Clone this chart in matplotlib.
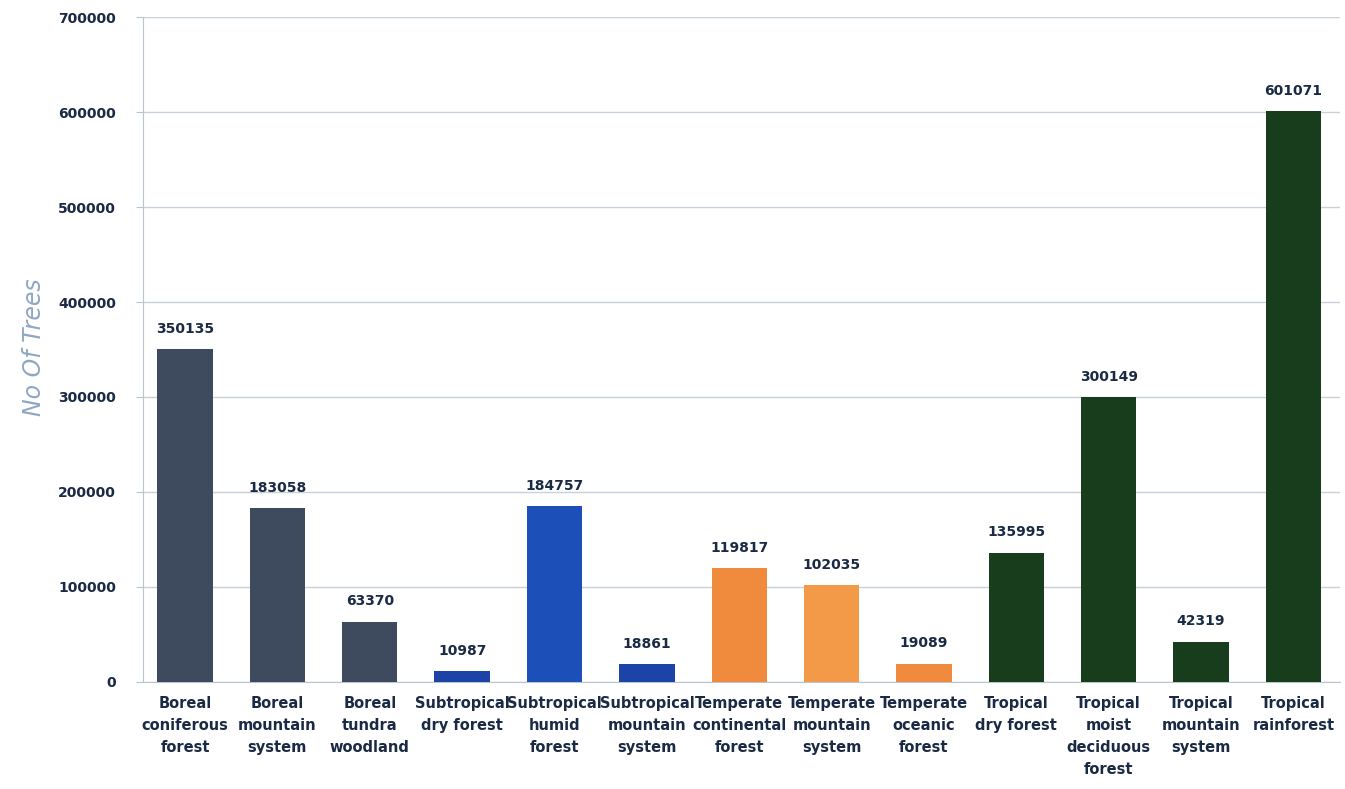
import matplotlib
matplotlib.use("Agg")
import matplotlib.pyplot as plt

categories = ["Boreal\nconiferous\nforest", "Boreal\nmountain\nsystem", "Boreal\ntundra\nwoodland",
              "Subtropical\ndry forest", "Subtropical\nhumid\nforest", "Subtropical\nmountain\nsystem",
              "Temperate\ncontinental\nforest", "Temperate\nmountain\nsystem", "Temperate\noceanic\nforest",
              "Tropical\ndry forest", "Tropical\nmoist\ndeciduous\nforest", "Tropical\nmountain\nsystem",
              "Tropical\nrainforest"]
values = [350135, 183058, 63370, 10987, 184757, 18861, 119817, 102035, 19089,
          135995, 300149, 42319, 601071]
colors = ["#3e4a5e", "#3e4a5e", "#3e4a5e",
          "#1c44a8", "#1d4fb8", "#1c44a8",
          "#f08a3c", "#f39a48", "#f08a3c",
          "#173d1c", "#173d1c", "#173d1c", "#173d1c"]
yticks = [0, 100000, 200000, 300000, 400000, 500000, 600000, 700000]

fig = plt.figure(figsize=(13.45, 7.89), dpi=100)
ax = fig.add_axes([0.106, 0.136, 0.89, 0.842])
x = list(range(len(categories)))
bars = ax.bar(x, values, width=0.6, color=colors, zorder=3)
text_col = "#1b2a44"
for xi, v in zip(x, values):
    ax.text(xi, v + 14000, str(v), ha="center", va="bottom", fontsize=10,
            fontweight="bold", color=text_col)
ax.set_xlim(-0.46, 12.5)
ax.set_ylim(0, 700000)
ax.set_yticks(yticks)
ax.set_yticklabels([str(t) for t in yticks], fontsize=10, fontweight="bold", color=text_col)
ax.set_xticks(x)
ax.set_xticklabels(categories, fontsize=10.5, fontweight="bold", color=text_col, linespacing=1.6)
ax.tick_params(axis="x", length=0, pad=10)
ax.tick_params(axis="y", length=5, color="#b8c4d0", pad=14)
ax.grid(axis="y", color="#c8d0da", linewidth=1, zorder=0)
for s in ["top", "right"]:
    ax.spines[s].set_visible(False)
ax.spines["left"].set_color("#b8c4d0")
ax.spines["bottom"].set_color("#b8c4d0")
fig.text(0.025, 0.56, "No Of Trees", rotation=90, fontsize=17, color="#8fa6c4",
         ha="center", va="center", fontstyle="italic")
fig.savefig("out.png", dpi=100, facecolor="white")
